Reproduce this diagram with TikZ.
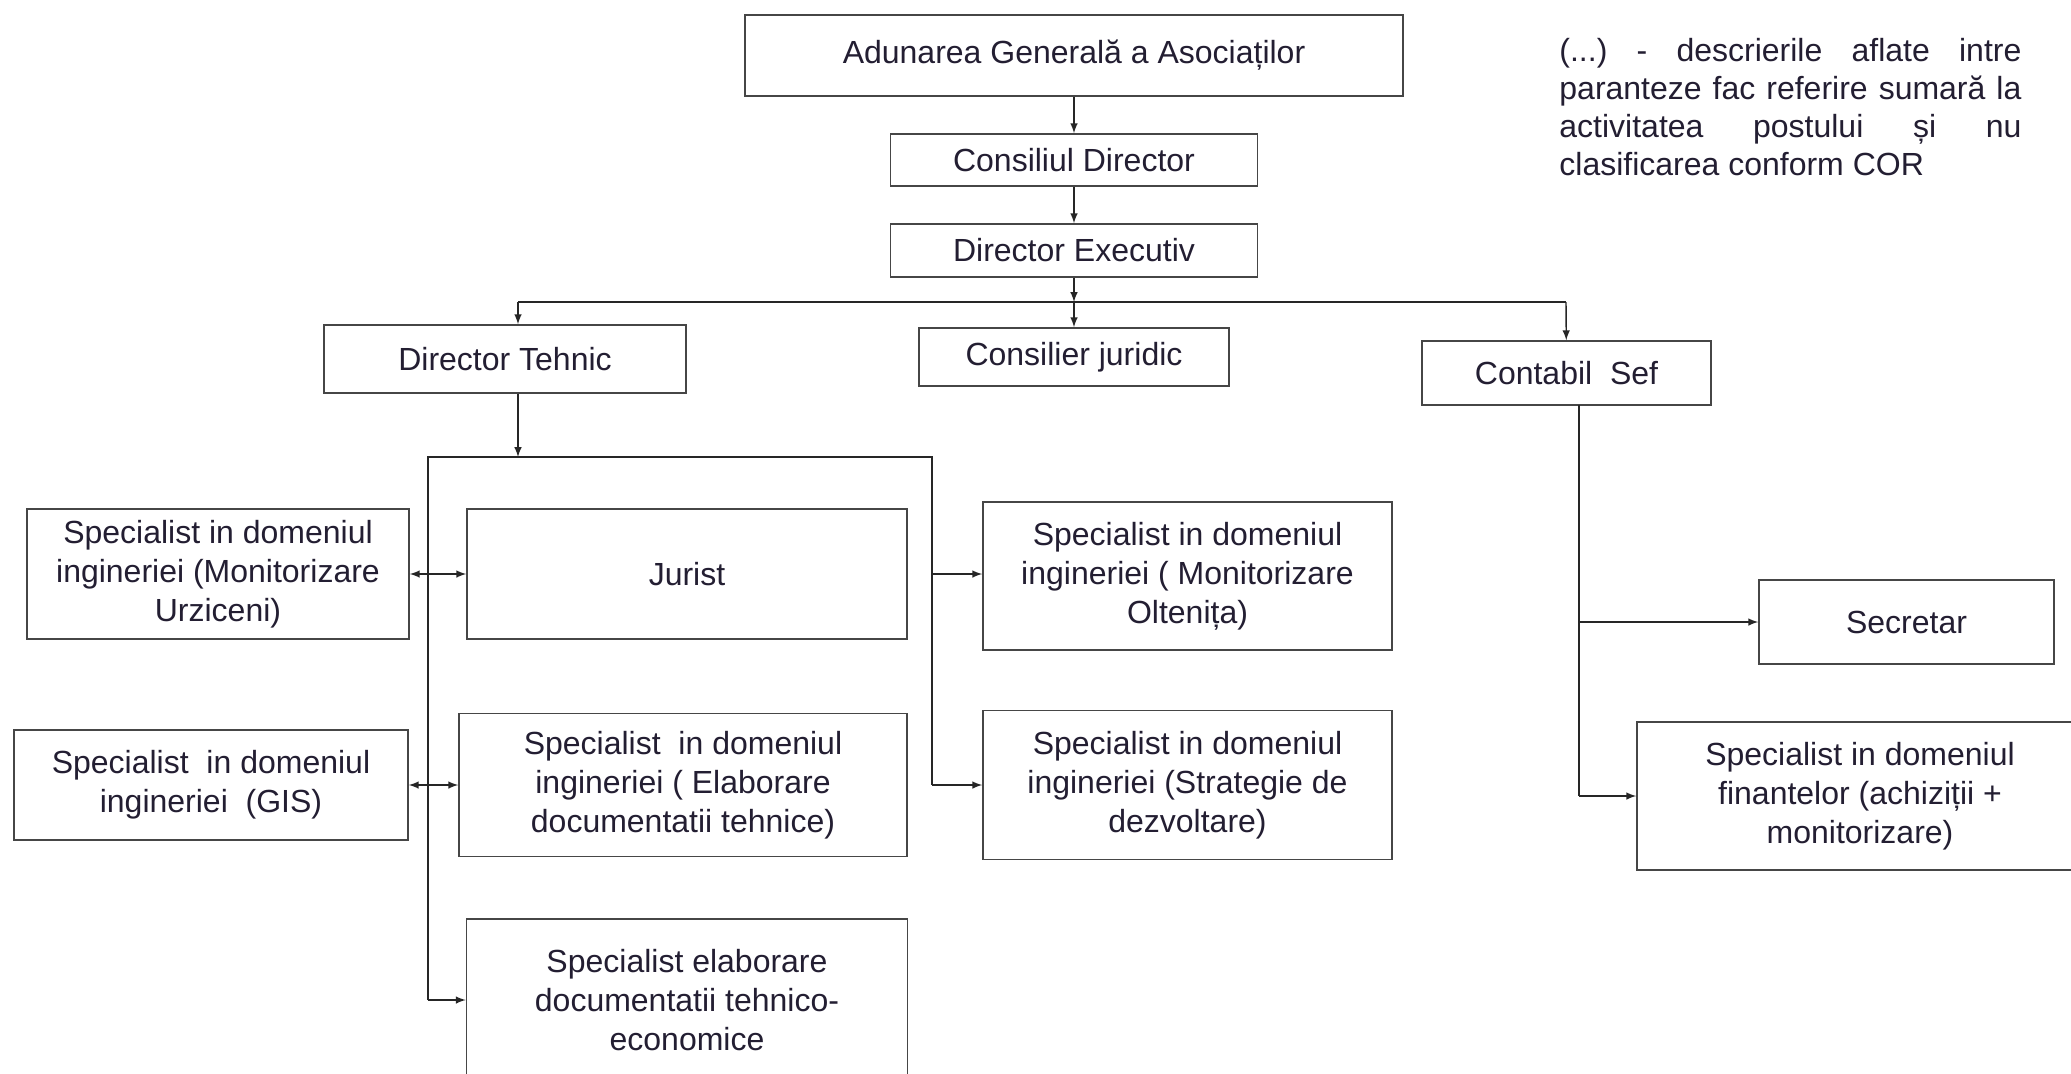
\documentclass[tikz,border=0pt]{standalone}
\usepackage{fontspec}
\setmainfont{Liberation Sans}
\frenchspacing
\definecolor{txtcol}{RGB}{35,30,50}
\definecolor{boxgray}{RGB}{70,70,70}
\tikzset{
  box/.style={draw=boxgray, line width=0.8pt, fill=white, align=center, inner sep=0pt, text=txtcol, font=\fontsize{16}{19.5}\selectfont},
  link/.style={draw=black!85, line width=0.7pt},
}
\begin{document}
\begin{tikzpicture}[x=0.5pt, y=-0.5pt, >=latex]
  \path[use as bounding box, fill=white] (0,0) rectangle (2071,1073);
  \clip (0,0) rectangle (2071,1073);

  \node (aga) [box, minimum width=329pt, minimum height=40.5pt] at (1074,55.5) {Adunarea Generală a Asociaților};
  \node (cd) [box, minimum width=183.5pt, minimum height=26pt, node distance=52.25pt, below of=aga] {Consiliul Director};
  \node (de) [box, minimum width=183.5pt, minimum height=26.5pt, node distance=45.25pt, below of=cd] {Director Executiv};
  \node (cj) [box, minimum width=155pt, minimum height=29pt, node distance=53.25pt, below of=de] {Consilier juridic};
  \node (dt) [box, minimum width=181pt, minimum height=34pt] at (505,359) {Director Tehnic};
  \node (cs) [box, minimum width=144.5pt, minimum height=32pt] at (1566.5,373) {Contabil\ \ Sef};

  \node (urz) [box, minimum width=191pt, minimum height=65pt] at (218,574) {Specialist in domeniul\\ingineriei (Monitorizare\\Urziceni)};
  \node (jur) [box, minimum width=220pt, minimum height=65pt, node distance=234.5pt, right of=urz] {Jurist};
  \node (olt) [box, minimum width=204.5pt, minimum height=74pt] at (1187.5,576) {Specialist in domeniul\\ingineriei ( Monitorizare\\Oltenița)};

  \node (gis) [box, minimum width=197pt, minimum height=55pt] at (211,785) {Specialist\ \ in domeniul\\ingineriei\ \ (GIS)};
  \node (ela) [box, minimum width=224pt, minimum height=71.5pt, node distance=236pt, right of=gis] {Specialist\ \ in domeniul\\ingineriei ( Elaborare\\documentatii tehnice)};
  \node (str) [box, minimum width=204.5pt, minimum height=74.5pt, node distance=252.25pt, right of=ela] {Specialist in domeniul\\ingineriei (Strategie de\\dezvoltare)};
  \node (teh) [box, minimum width=220.5pt, minimum height=81pt, node distance=213pt, below of=jur] {Specialist elaborare\\documentatii tehnico-\\economice};

  \node (sec) [box, minimum width=147.5pt, minimum height=42pt] at (1906.5,622) {Secretar};
  \node (fin) [box, minimum width=223pt, minimum height=74pt] at (1860,796) {Specialist in domeniul\\finantelor (achiziții +\\monitorizare)};

  \node (nota) [anchor=north west, text width=231pt, align=justify, inner sep=0pt, text=txtcol, font=\fontsize{16}{19}\selectfont] at (1559,38) {(...) - descrierile aflate intre\linebreak paranteze fac referire sumară la\linebreak activitatea postului și nu\linebreak clasificarea conform COR};

  \coordinate (bus) at (1074,302);
  \coordinate (busl) at (518,302);
  \coordinate (busr) at (1566,302);
  \coordinate (brl) at (428,457);
  \coordinate (brr) at (932,457);
  \coordinate (csl) at (1579,405);

  \draw [link, ->] (aga) -- (cd);
  \draw [link, ->] (cd) -- (de);
  \draw [link, ->] (de) -- (bus);
  \draw [link, ->] (bus) -- (cj);
  \draw [link, line width=1pt] (busl) -- (busr);
  \draw [link, ->] (busl) -- (busl |- dt.north);
  \draw [link, ->] (busr) -- (cs);

  \draw [link, ->] (dt.south -| busl) -- (busl |- brl);
  \draw [link] (brl |- teh) -- (brl) -- (brr) -- (brr |- str);
  \draw [link, <->] (urz) -- (jur);
  \draw [link, ->] (brr |- jur) -- (olt.west |- jur);
  \draw [link, <->] (gis) -- (ela);
  \draw [link, ->] (brr |- str) -- (str);
  \draw [link, ->] (brl |- teh) -- (teh);

  \draw [link] (csl) -- (csl |- fin);
  \draw [link, ->] (csl |- sec) -- (sec);
  \draw [link, ->] (csl |- fin) -- (fin);
\end{tikzpicture}
\end{document}
